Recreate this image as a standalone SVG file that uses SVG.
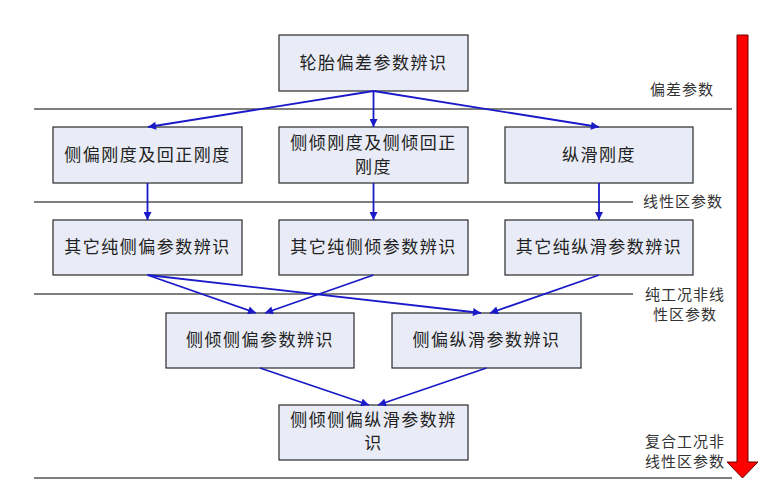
<svg xmlns="http://www.w3.org/2000/svg" width="761" height="486" viewBox="0 0 761 486">
<defs>
<marker id="ah" viewBox="0 0 10 10" refX="10" refY="5" markerWidth="10" markerHeight="8" markerUnits="userSpaceOnUse" orient="auto">
<path d="M0,0 L10,5 L0,10 z" fill="#1a1ac8"/>
</marker>
<style>
.box{fill:#e9ecf6;stroke:#2a2a2a;stroke-width:1.2}
.t{font-family:"Liberation Serif","Noto Sans CJK SC",serif;font-size:17px;fill:#222;text-anchor:middle;letter-spacing:1.5px}
.lab{font-family:"Liberation Serif","Noto Sans CJK SC",serif;font-size:15px;fill:#333;letter-spacing:1px}
.sep{stroke:#555;stroke-width:1.5}
.c{stroke:#1a1ac8;stroke-width:1.8;fill:none;marker-end:url(#ah)}
</style>
</defs>
<rect width="761" height="486" fill="#fff"/>
<g id="separators">
<line class="sep" x1="34" y1="109" x2="732" y2="109"/>
<line class="sep" x1="34" y1="202" x2="633" y2="202"/>
<line class="sep" x1="34" y1="294" x2="633" y2="294"/>
<line class="sep" x1="34" y1="478" x2="732" y2="478"/>
</g>
<g id="labels">
<text class="lab" x="650" y="95">偏差参数</text>
<text class="lab" x="643" y="207">线性区参数</text>
<text class="lab" x="645" y="300">纯工况非线</text>
<text class="lab" x="653" y="320">性区参数</text>
<text class="lab" x="645" y="447">复合工况非</text>
<text class="lab" x="645" y="467">线性区参数</text>
</g>
<g id="red-arrow">
<path d="M737,35 L748,35 L748,462 L758,462 L742.5,478 L727,462 L737,462 z" fill="#ff0000" stroke="#6a0000" stroke-width="1"/>
</g>
<g id="n1"><rect class="box" x="279" y="35" width="189" height="56"/><text class="t" x="373.5" y="69">轮胎偏差参数辨识</text></g>
<g id="n2"><rect class="box" x="53" y="127" width="189" height="56"/><text class="t" x="147.5" y="161">侧偏刚度及回正刚度</text></g>
<g id="n3"><rect class="box" x="279" y="127" width="189" height="56"/><text class="t" x="373.5" y="149">侧倾刚度及侧倾回正</text><text class="t" x="373.5" y="173">刚度</text></g>
<g id="n4"><rect class="box" x="505" y="127" width="188" height="56"/><text class="t" x="599" y="161">纵滑刚度</text></g>
<g id="n5"><rect class="box" x="53" y="220" width="189" height="55"/><text class="t" x="147.5" y="253">其它纯侧偏参数辨识</text></g>
<g id="n6"><rect class="box" x="279" y="220" width="189" height="55"/><text class="t" x="373.5" y="253">其它纯侧倾参数辨识</text></g>
<g id="n7"><rect class="box" x="505" y="220" width="188" height="55"/><text class="t" x="599" y="253">其它纯纵滑参数辨识</text></g>
<g id="n8"><rect class="box" x="166" y="313" width="188" height="55"/><text class="t" x="260" y="346">侧倾侧偏参数辨识</text></g>
<g id="n9"><rect class="box" x="392" y="313" width="189" height="55"/><text class="t" x="486.5" y="346">侧偏纵滑参数辨识</text></g>
<g id="n10"><rect class="box" x="279" y="405" width="189" height="55"/><text class="t" x="373.5" y="426">侧倾侧偏纵滑参数辨</text><text class="t" x="373.5" y="449">识</text></g>
<g id="connectors">
<line class="c" x1="373.5" y1="91" x2="148" y2="127"/>
<line class="c" x1="373.5" y1="91" x2="373.5" y2="127"/>
<line class="c" x1="373.5" y1="91" x2="599" y2="127"/>
<line class="c" x1="147.5" y1="183" x2="147.5" y2="220"/>
<line class="c" x1="373.5" y1="183" x2="373.5" y2="220"/>
<line class="c" x1="599" y1="183" x2="599" y2="220"/>
<line class="c" x1="147.5" y1="275" x2="256" y2="313"/>
<line class="c" x1="373.5" y1="275" x2="265" y2="313"/>
<line class="c" x1="147.5" y1="275" x2="481" y2="313"/>
<line class="c" x1="599" y1="275" x2="490" y2="313"/>
<line class="c" x1="260" y1="368" x2="369" y2="405"/>
<line class="c" x1="486.5" y1="368" x2="378" y2="405"/>
</g>
</svg>
